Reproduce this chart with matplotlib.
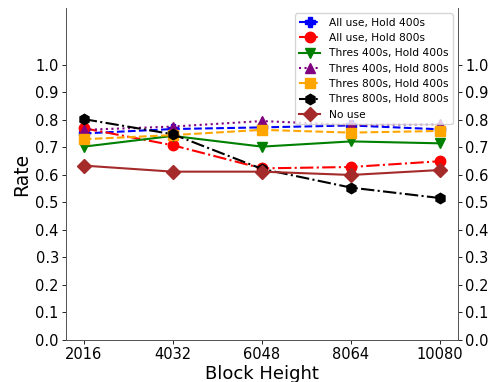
import numpy as np
import matplotlib.pyplot as plt

heights = [2016, 4032, 6048, 8064, 10080]

all_400 = [0.751, 0.767, 0.773, 0.780, 0.766]
all_800 = [0.770, 0.708, 0.624, 0.629, 0.650]
t400_h400 = [0.703, 0.742, 0.703, 0.722, 0.715]
t400_h800 = [0.764, 0.776, 0.796, 0.782, 0.785]
t800_h400 = [0.730, 0.745, 0.764, 0.754, 0.760]
t800_h800 = [0.803, 0.748, 0.622, 0.554, 0.516]
no_use = [0.634, 0.612, 0.612, 0.600, 0.618]

fig = plt.figure(figsize=(4.98, 3.82), dpi=100)
ax = fig.add_axes([0.1325, 0.11, 0.787, 0.869])

kw = dict(ms=7.5, lw=1.5)
ax.plot(heights, all_400, color='blue', ls='--', marker='P', label='All use, Hold 400s', **kw)
ax.plot(heights, all_800, color='red', ls='-.', marker='o', label='All use, Hold 800s', **kw)
ax.plot(heights, t400_h400, color='green', ls='-', marker='v', label='Thres 400s, Hold 400s', **kw)
ax.plot(heights, t400_h800, color='purple', ls=':', marker='^', label='Thres 400s, Hold 800s', **kw)
ax.plot(heights, t800_h400, color='orange', ls='--', marker='s', label='Thres 800s, Hold 400s', **kw)
ax.plot(heights, t800_h800, color='black', ls='-.', marker='h', label='Thres 800s, Hold 800s', **kw)
ax.plot(heights, no_use, color='brown', ls='-', marker='D', label='No use', **kw)

ticks = np.round(np.arange(0, 1.01, 0.1), 1)
ax.set_ylim(0, 1.207)
ax.set_yticks(ticks)
ax.set_xticks(heights)
ax.tick_params(labelsize=10.5, length=2.6, pad=2.6, width=0.6)
ax.set_xlabel('Block Height', fontsize=13, labelpad=2)
ax.set_ylabel('Rate', fontsize=13.5, labelpad=3)

ax2 = ax.twinx()
ax2.set_ylim(ax.get_ylim())
ax2.set_yticks(ticks)
ax2.tick_params(labelsize=10.5, length=2.6, pad=2.6, width=0.6)

for a in (ax, ax2):
    a.spines['top'].set_visible(False)
    for s in a.spines.values():
        s.set_linewidth(0.7)
        s.set_color('#555555')

ax.legend(loc='upper right', fontsize=7.7)

fig.savefig('out.png', dpi=100)
